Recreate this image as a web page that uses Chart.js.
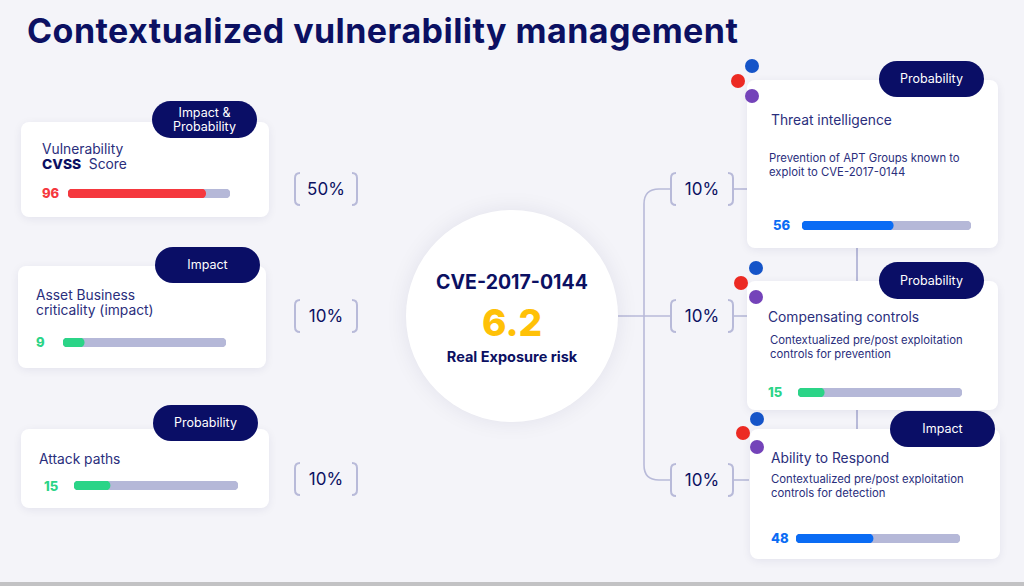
<!DOCTYPE html>
<html>
<head>
<meta charset="utf-8">
<script src="https://cdn.jsdelivr.net/npm/chart.js@4.4.1/dist/chart.umd.min.js"></script>
<style>
  html, body { margin: 0; padding: 0; }
  body {
    width: 1024px; height: 586px; overflow: hidden; position: relative;
    background: #f4f4f9; font-family: "Inter", "Noto Sans", sans-serif; color: #0b1062;
  }
  .abs { position: absolute; }
  .title { left: 27px; top: 10px; font-size: 34px; font-weight: 700; color: #0b1062; letter-spacing: 0.45px; white-space: nowrap; }
  .card { background: #fff; border-radius: 8px; box-shadow: 0 2px 10px rgba(20, 20, 80, 0.07); }
  .pill { background: #0a0e66; color: #fff; border-radius: 19px; font-size: 12.5px; line-height: 14px;
          display: flex; align-items: center; justify-content: center; text-align: center; }
  .ctitle { font-size: 13.8px; line-height: 15px; color: #2a2e7c; white-space: nowrap; }
  .ctitle b { color: #0b1062; font-weight: 800; }
  .desc { font-size: 11.3px; line-height: 13.5px; color: #2a2e7c; white-space: nowrap; }
  .score { font-size: 13px; font-weight: 800; line-height: 14px; }
  .weight { font-size: 17px; color: #0b1062; width: 62px; text-align: center; line-height: 20px; }
  .bar { height: 9px; }
  .circle { left: 406px; top: 210px; width: 212px; height: 212px; border-radius: 50%; background: #fff;
            box-shadow: 0 0 22px rgba(20, 20, 80, 0.08); }
  .dot { width: 14px; height: 14px; border-radius: 50%; }
  .bottom { left: 0; top: 582px; width: 1024px; height: 4px; background: #c2c2c4; }
</style>
</head>
<body>
<div class="abs title">Contextualized vulnerability management</div>
<svg class="abs" style="left:0;top:0" width="1024" height="586" id="lines"></svg>
<div class="abs circle"></div>
<div class="abs" style="left:406px;top:271px;width:212px;text-align:center;font-size:19.5px;font-weight:700;color:#0b1062;line-height:22px">CVE-2017-0144</div>
<div class="abs" style="left:406px;top:301px;width:212px;text-align:center;font-size:37px;font-weight:800;color:#ffc107;line-height:44px">6.2</div>
<div class="abs" style="left:406px;top:348px;width:212px;text-align:center;font-size:14.5px;font-weight:700;color:#0b1062;line-height:18px">Real Exposure risk</div>
<div class="abs bottom"></div>
<script>
// factor scores shown on each card
const factorTitles = [
  ["Vulnerability", "<b>CVSS</b>&nbsp; Score"],
  ["Asset Business", "criticality (impact)"],
  ["Attack paths"],
  ["Threat intelligence"],
  ["Compensating controls"],
  ["Ability to Respond"]
];
const factorTags = ["Impact &amp;<br>Probability", "Impact", "Probability", "Probability", "Probability", "Impact"];
const factorDescs = [
  [], [], [],
  ["Prevention of APT Groups known to", "exploit to CVE-2017-0144"],
  ["Contextualized pre/post exploitation", "controls for prevention"],
  ["Contextualized pre/post exploitation", "controls for detection"]
];
const scores = [96, 9, 15, 56, 15, 48];
const barFill = [85, 13, 22, 54, 16, 47];   // filled part of each bar as drawn
const trackMax = [100, 100, 100, 100, 100, 100];
const weights = ["50%", "10%", "10%", "10%", "10%", "10%"];

const colorOf = ["#f5383e", "#2bd487", "#2bd487", "#0b6cf4", "#2bd487", "#0b6cf4"];

// layout: card box, pill box, title/desc/score/bar positions
const layout = [
  { card: [21, 122, 248, 95], pill: [152, 101, 105, 37], title: [42, 142], score: [42, 193], bar: [68, 189, 162], dots: null },
  { card: [18, 266, 248, 102], pill: [155, 247, 105, 36], title: [36, 288], score: [36, 342], bar: [63, 338, 163], dots: null },
  { card: [21, 429, 248, 79], pill: [153, 405, 105, 36], title: [39, 452], score: [44, 486], bar: [74, 481, 164], dots: null },
  { card: [747, 80, 251, 168], pill: [879, 61, 105, 36], title: [771, 113], desc: [769, 152], score: [773, 225], bar: [802, 221, 169], dots: [752, 66, 738, 81, 752, 96] },
  { card: [747, 281, 251, 129], pill: [879, 262, 105, 37], title: [768, 310], desc: [770, 334], score: [768, 392], bar: [798, 388, 164], dots: [756, 268, 741, 283, 756, 297] },
  { card: [750, 429, 250, 130], pill: [890, 411, 105, 36], title: [771, 451], desc: [771, 473], score: [771, 538], bar: [796, 534, 164], dots: [757, 419, 743, 433, 757, 447] }
];
const weightPos = [[295, 189], [295, 316], [295, 479], [671, 189], [671, 316], [671, 480]];

function el(cls, x, y, w, h, html) {
  const d = document.createElement("div");
  d.className = "abs " + cls;
  d.style.left = x + "px"; d.style.top = y + "px";
  if (w != null) d.style.width = w + "px";
  if (h != null) d.style.height = h + "px";
  if (html != null) d.innerHTML = html;
  document.body.appendChild(d);
  return d;
}

// connectors and brackets
const lc = "#b8bad9";
let svg = "";
function bracket(x, cy) {
  const t = cy - 16, b = cy + 16, r = 4;
  svg += `<path d="M${x + 5} ${t} Q${x} ${t} ${x} ${t + r + 1} L${x} ${b - r - 1} Q${x} ${b} ${x + 5} ${b}" fill="none" stroke="${lc}" stroke-width="2"/>`;
  const xr = x + 62;
  svg += `<path d="M${xr - 5} ${t} Q${xr} ${t} ${xr} ${t + r + 1} L${xr} ${b - r - 1} Q${xr} ${b} ${xr - 5} ${b}" fill="none" stroke="${lc}" stroke-width="2"/>`;
}
weightPos.forEach(p => bracket(p[0], p[1]));
svg += `<path d="M618 316 L671 316" stroke="${lc}" stroke-width="1.6" fill="none"/>`;
svg += `<path d="M671 189 L659 189 Q644 189 644 204 L644 465 Q644 480 659 480 L671 480" stroke="${lc}" stroke-width="1.6" fill="none"/>`;
[189, 316, 480].forEach(y => { svg += `<path d="M733 ${y} L749 ${y}" stroke="${lc}" stroke-width="1.6"/>`; });
svg += `<path d="M857 247 L857 282 M857 409 L857 430" stroke="${lc}" stroke-width="2"/>`;
document.getElementById("lines").innerHTML = svg;

weights.forEach((w, i) => el("weight", weightPos[i][0], weightPos[i][1] - 10, 62, null, w));

layout.forEach((L, i) => {
  el("card", L.card[0], L.card[1], L.card[2], L.card[3]);
  if (L.dots) {
    const dc = ["#1554c8", "#ec2a23", "#7443b9"];
    for (let k = 0; k < 3; k++) {
      const d = el("dot", L.dots[k * 2] - 7, L.dots[k * 2 + 1] - 7, null, null);
      d.style.background = dc[k];
    }
  }
  el("pill", L.pill[0], L.pill[1], L.pill[2], L.pill[3], factorTags[i]);
  el("ctitle", L.title[0], L.title[1], null, null, factorTitles[i].join("<br>"));
  if (L.desc) el("desc", L.desc[0], L.desc[1], null, null, factorDescs[i].join("<br>"));
  const s = el("score", L.score[0], L.score[1] - 7, null, null, String(scores[i]));
  s.style.color = colorOf[i];

  const wrap = el("bar", L.bar[0], L.bar[1], L.bar[2], 9);
  const cv = document.createElement("canvas");
  wrap.appendChild(cv);
  new Chart(cv, {
    type: "bar",
    data: {
      labels: [factorTitles[i][0]],
      datasets: [
        { data: [barFill[i]], backgroundColor: colorOf[i], order: 0, grouped: false,
          borderRadius: 5, borderSkipped: false, barPercentage: 1, categoryPercentage: 1 },
        { data: [trackMax[i]], backgroundColor: "#b5b8d8", order: 1, grouped: false,
          borderRadius: 5, borderSkipped: false, barPercentage: 1, categoryPercentage: 1 }
      ]
    },
    options: {
      indexAxis: "y",
      responsive: true,
      maintainAspectRatio: false,
      animation: false,
      layout: { padding: 0 },
      plugins: { legend: { display: false }, tooltip: { enabled: false } },
      scales: {
        x: { display: false, min: 0, max: 100 },
        y: { display: false }
      }
    }
  });
});
</script>
</body>
</html>
